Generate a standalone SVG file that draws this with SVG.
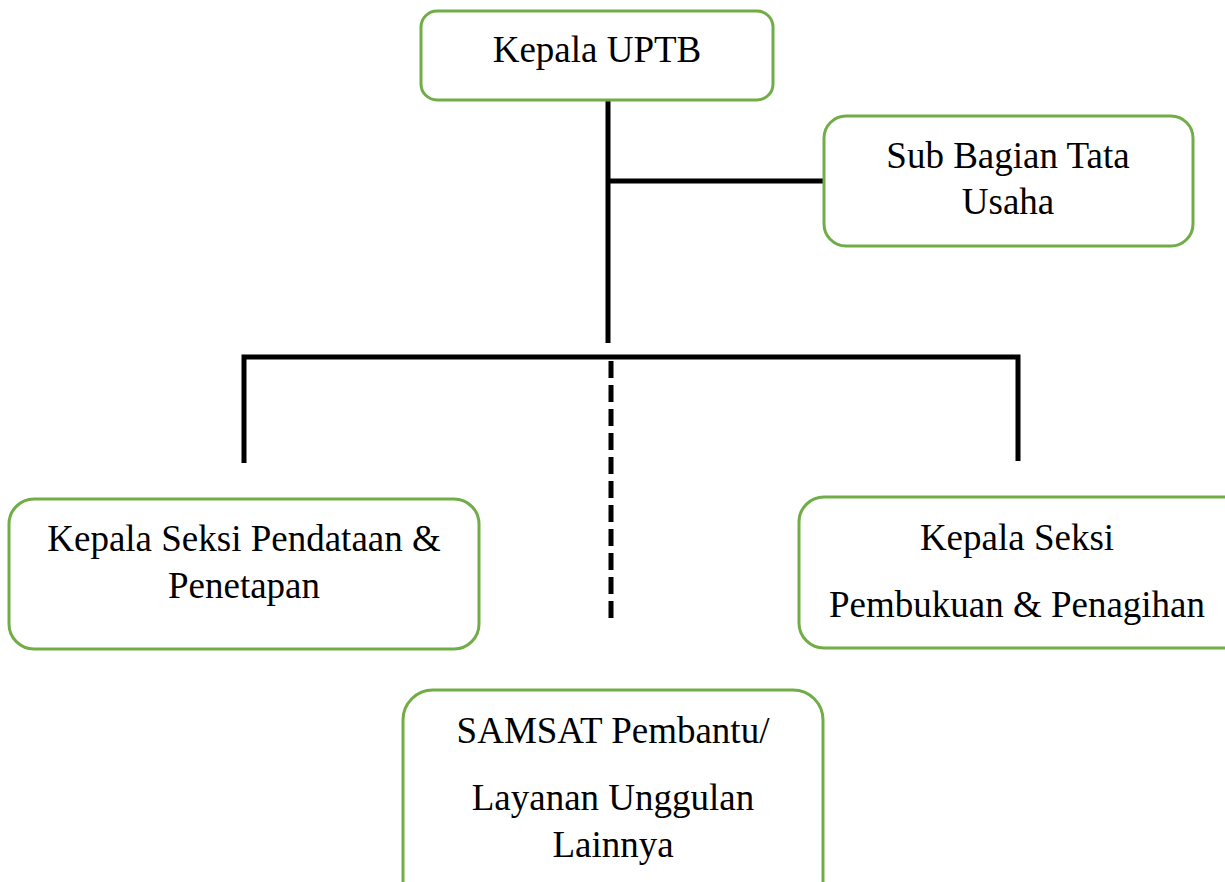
<svg xmlns="http://www.w3.org/2000/svg" width="1225" height="882" viewBox="0 0 1225 882">
<style>
.box{fill:#fff;stroke:#70AD47;stroke-width:3}
.t{font-family:"Liberation Serif","Times New Roman",serif;font-size:37px;fill:#000;text-anchor:middle}
.ln{stroke:#000;stroke-width:5;fill:none}
.dash{stroke:#000;stroke-width:5;fill:none;stroke-dasharray:17 7}
</style>
<rect width="1225" height="882" fill="#fff"/>
<g id="connectors">
<line class="ln" x1="608" y1="100" x2="608" y2="343"/>
<line class="ln" x1="608" y1="181" x2="824" y2="181"/>
<polyline class="ln" points="244,463 244,357 1018,357 1018,461"/>
<line class="dash" x1="611" y1="361" x2="611" y2="619"/>
</g>
<g id="kepala-uptb">
<rect class="box" x="421" y="11" width="352" height="89" rx="16"/>
<text class="t" x="597" y="62">Kepala UPTB</text>
</g>
<g id="sub-bagian">
<rect class="box" x="824" y="116" width="369" height="130" rx="22"/>
<text class="t" x="1008" y="168">Sub Bagian Tata</text>
<text class="t" x="1008" y="214">Usaha</text>
</g>
<g id="seksi-pendataan">
<rect class="box" x="9" y="499" width="470" height="150" rx="25"/>
<text class="t" x="244" y="551">Kepala Seksi Pendataan &amp;</text>
<text class="t" x="244" y="598">Penetapan</text>
</g>
<g id="seksi-pembukuan">
<rect class="box" x="799" y="497" width="460" height="151" rx="25"/>
<text class="t" x="1017" y="550">Kepala Seksi</text>
<text class="t" x="1017" y="617">Pembukuan &amp; Penagihan</text>
</g>
<g id="samsat">
<rect class="box" x="403" y="690" width="420" height="230" rx="30"/>
<text class="t" x="613" y="743">SAMSAT Pembantu/</text>
<text class="t" x="613" y="810">Layanan Unggulan</text>
<text class="t" x="613" y="857">Lainnya</text>
</g>
</svg>
